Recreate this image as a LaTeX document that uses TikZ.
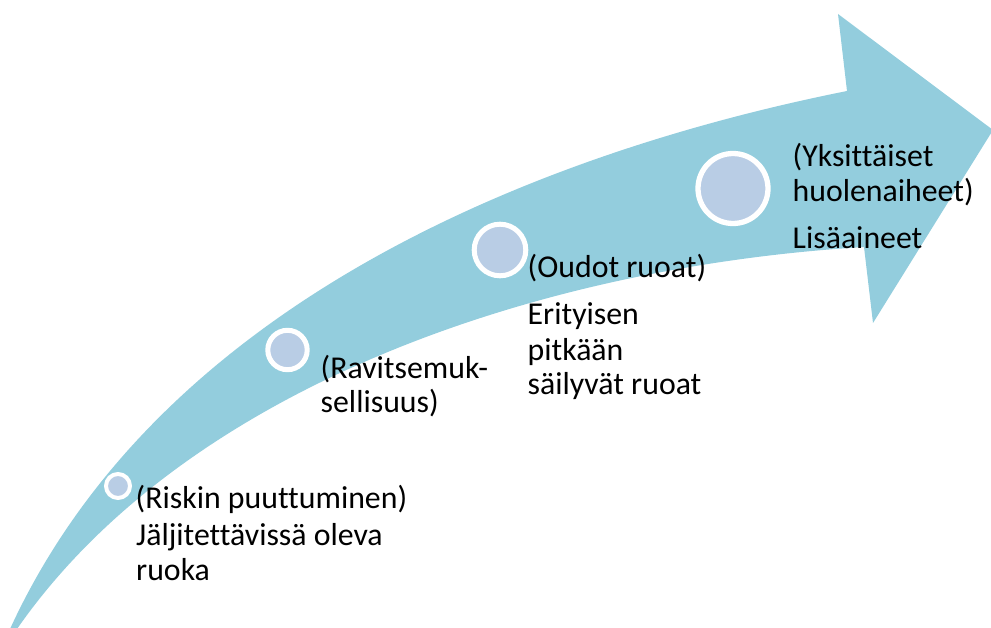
\documentclass[tikz,border=0pt]{standalone}
\usepackage{fontspec}
\setmainfont[Ligatures={NoCommon}]{Carlito}
\definecolor{arrowfill}{HTML}{93CDDD}
\definecolor{circfill}{HTML}{B9CDE5}
\begin{document}
\begin{tikzpicture}[x=1pt,y=-1pt,
  dot/.style={circle, draw=white, fill=circfill, inner sep=0pt},
  lbl/.style={anchor=base west, inner sep=0pt, font=\fontsize{31.8pt}{36pt}\selectfont, text=black}]
\useasboundingbox (0,0) rectangle (991,628);
% curved arrow
\fill[arrowfill] (10,629) .. controls (162,298) and (547,151) .. (847,91)
  -- (838,14) -- (993,130) -- (873,323) -- (864,247)
  .. controls (534,267) and (184,389) .. (17,629) -- cycle;
% circles
\node[dot, minimum size=24pt, line width=4pt] (c1) at (118,486) {};
\node[dot, minimum size=39.4pt, line width=5pt] (c2) at (287.5,350) {};
\node[dot, minimum size=51.6pt, line width=5pt] (c3) at (500,250) {};
\node[dot, minimum size=70pt, line width=5.3pt] (c4) at (733,188.5) {};
% texts
\node[lbl] (t1a) at (135.5,508) {(Riskin puuttuminen)};
\node[lbl] (t1b) at (136,545) {Jäljitettävissä oleva};
\node[lbl] (t1c) at (136,580) {ruoka};
\node[lbl] (t2a) at (320.5,378) {(Ravitsemuk-};
\node[lbl] (t2b) at (320.5,413) {sellisuus)};
\node[lbl] (t3a) at (527.5,278) {(Oudot ruoat)};
\node[lbl] (t3b) at (527.5,325) {Erityisen};
\node[lbl] (t3c) at (527.5,360) {pitkään};
\node[lbl] (t3d) at (527.5,395) {säilyvät ruoat};
\node[lbl] (t4a) at (792.5,167) {(Yksittäiset};
\node[lbl] (t4b) at (792.5,202) {huolenaiheet)};
\node[lbl] (t4c) at (792.5,249) {Lisäaineet};
\end{tikzpicture}
\end{document}
